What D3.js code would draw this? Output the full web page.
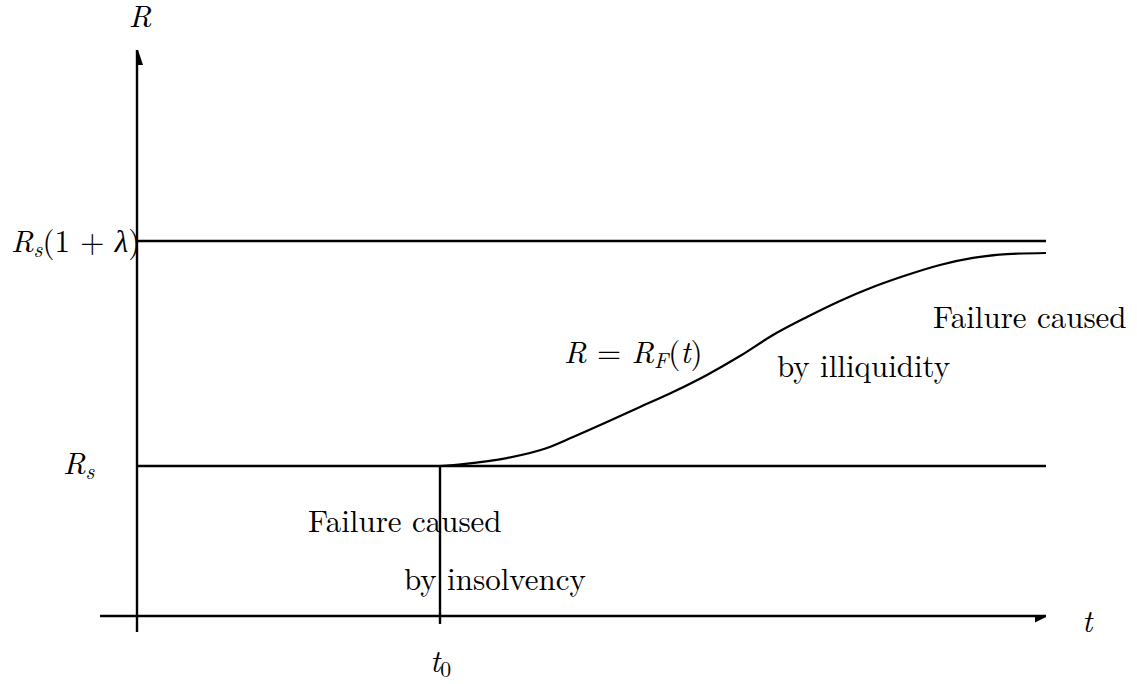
<!DOCTYPE html>
<html>
<head>
<meta charset="utf-8">
<script src="https://cdn.jsdelivr.net/npm/d3@7"></script>
<style>
	body { margin: 0; background: #fff; }
</style>
</head>
<body>
<div id="chart"></div>
<script>
var width = 1137,
	height = 684;

// schematic values (t in units of t0, R in units of Rs)
var T0 = 1,
	T_END = 3,
	RS = 1,
	LAMBDA = 1.5;

var curveT = [1, 1.076, 1.221, 1.353, 1.439, 1.551, 1.66, 1.769, 1.881, 1.99, 2.099, 2.211, 2.32, 2.429, 2.541, 2.65, 2.759, 2.871, 3];
var curveR = [1, 1.013, 1.053, 1.12, 1.193, 1.293, 1.393, 1.493, 1.607, 1.733, 1.873, 1.993, 2.1, 2.193, 2.273, 2.34, 2.387, 2.413, 2.42];

var svg = d3.select('#chart').append('svg')
	.attr('width', width)
	.attr('height', height);

var x = d3.scaleLinear()
	.domain([0, T_END])
	.range([137, 1046]);

var y = d3.scaleLinear()
	.domain([0, RS * (1 + LAMBDA)])
	.range([616, 241]);

var line = d3.line()
	.x(d => x(d[0]))
	.y(d => y(d[1]))
	.curve(d3.curveMonotoneX);

var axisStyle = g => g.attr('stroke', '#000').attr('stroke-width', 2.4).attr('fill', 'none');

var g = svg.append('g');

// axes
g.append('line').call(axisStyle)
	.attr('x1', x(-0.122)).attr('x2', x(T_END))
	.attr('y1', y(0)).attr('y2', y(0));
g.append('line').call(axisStyle)
	.attr('x1', x(0)).attr('x2', x(0))
	.attr('y1', y(-0.107)).attr('y2', y(3.773));

// half arrow heads
g.append('path')
	.attr('d', 'M' + x(T_END) + ',' + (y(0) + 1) + 'l-11,-1.5l0,7z')
	.attr('fill', '#000');
g.append('path')
	.attr('d', 'M' + (x(0) + 1) + ',' + y(3.773) + 'l5,15l-5,0z')
	.attr('fill', '#000');

// horizontal levels
[RS, RS * (1 + LAMBDA)].forEach(function(r) {
	g.append('line').call(axisStyle)
		.attr('x1', x(0)).attr('x2', x(T_END))
		.attr('y1', y(r)).attr('y2', y(r));
});

// t0 vertical
g.append('line').call(axisStyle)
	.attr('x1', x(T0)).attr('x2', x(T0))
	.attr('y1', y(RS)).attr('y2', y(-0.053));

// R = R_F(t)
g.append('path')
	.datum(curveT.map((t, i) => [t, curveR[i]]))
	.attr('d', line)
	.attr('fill', 'none')
	.attr('stroke', '#000')
	.attr('stroke-width', 2.2);

// labels
var fs = 31,
	FONT = "'Latin Modern Roman', 'Liberation Serif', serif";

// parts: [text, italic?, subscript?]
function label(px, py, parts, anchor) {
	var t = svg.append('text')
		.attr('x', px).attr('y', py)
		.attr('text-anchor', anchor || 'start')
		.style('font-family', FONT)
		.attr('font-size', fs)
		.attr('fill', '#000');
	var shift = 0;
	parts.forEach(function(p) {
		var s = t.append('tspan')
			.attr('font-style', p[1] ? 'italic' : 'normal')
			.text(p[0]);
		var want = p[2] ? 5 : 0;
		if (want !== shift) s.attr('dy', want - shift);
		if (p[2]) s.attr('font-size', fs * 0.7);
		shift = want;
	});
	return t;
}

label(140, 27, [['R', 1]], 'middle');
label(11, 252, [['R', 1], ['s', 1, 1], ['(1 + ', 0], ['λ', 1], [')', 0]]);
label(63, 474, [['R', 1], ['s', 1, 1]]);
label(x(T0) - 10, 672, [['t', 1], ['0', 0, 1]]);
label(1082, 632, [['t', 1]]);
label(564, 363, [['R', 1], [' = ', 0], ['R', 1], ['F', 1, 1], ['(', 0], ['t', 1], [')', 0]]);

label(933, 328, [['Failure caused', 0]]);
label(777, 377, [['by illiquidity', 0]]);
label(308, 532, [['Failure caused', 0]]);
label(404, 590, [['by insolvency', 0]]);
</script>
</body>
</html>
